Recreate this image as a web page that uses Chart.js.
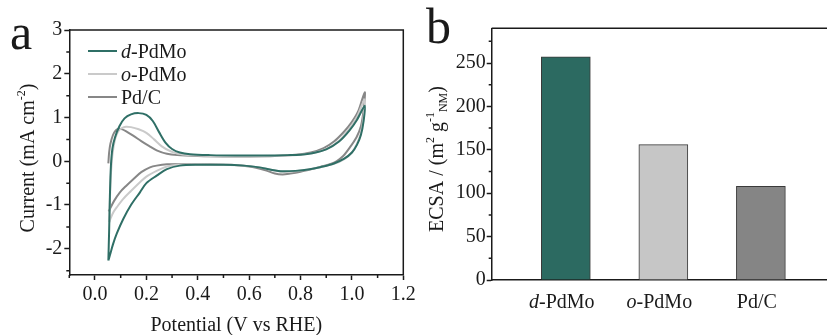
<!DOCTYPE html>
<html lang="en">
<head>
<meta charset="UTF-8">
<title>CV / ECSA</title>
<script src="https://cdn.jsdelivr.net/npm/chart.js"></script>
<style>
  body { margin: 0; width: 827px; height: 335px; overflow: hidden; background: #fff; position: relative; }
  .panel { position: absolute; top: 0; height: 335px; }
</style>
</head>
<body>
<div class="panel" style="left:0;width:420px"><canvas id="cvChart"></canvas></div>
<div class="panel" style="left:420px;width:440px"><canvas id="ecsaChart"></canvas></div>
<script>
// CV loops: potential (V vs RHE) / current (mA cm-2), anodic sweep then cathodic sweep
const dPdMoV = [0.052, 0.055, 0.058, 0.062, 0.068, 0.078, 0.095, 0.115, 0.14, 0.17, 0.2, 0.225, 0.25, 0.275, 0.3, 0.33, 0.37, 0.45, 0.55, 0.65, 0.75, 0.8, 0.85, 0.9, 0.95, 0.99, 1.02, 1.05,
  1.045, 1.035, 1.02, 1.0, 0.97, 0.93, 0.88, 0.83, 0.78, 0.73, 0.69, 0.64, 0.58, 0.5, 0.4, 0.33, 0.28, 0.24, 0.2, 0.175, 0.14, 0.11, 0.085, 0.07, 0.058, 0.052];
const dPdMoI = [-2.27, -1.6, -0.8, -0.1, 0.3, 0.55, 0.8, 0.98, 1.07, 1.1, 1.06, 0.92, 0.66, 0.42, 0.28, 0.2, 0.16, 0.14, 0.13, 0.13, 0.14, 0.15, 0.19, 0.27, 0.45, 0.7, 0.95, 1.27,
  0.9, 0.6, 0.38, 0.2, 0.06, -0.05, -0.13, -0.19, -0.22, -0.23, -0.2, -0.14, -0.1, -0.08, -0.08, -0.1, -0.18, -0.33, -0.5, -0.71, -1.0, -1.32, -1.65, -1.9, -2.15, -2.27];

const oPdMoV = [0.056, 0.058, 0.062, 0.068, 0.078, 0.09, 0.105, 0.12, 0.14, 0.17, 0.2, 0.23, 0.26, 0.29, 0.32, 0.36, 0.45, 0.55, 0.65, 0.75, 0.8, 0.85, 0.9, 0.95, 0.99, 1.02, 1.05,
  1.045, 1.035, 1.02, 1.0, 0.97, 0.93, 0.88, 0.83, 0.78, 0.73, 0.69, 0.64, 0.58, 0.5, 0.4, 0.32, 0.28, 0.24, 0.2, 0.175, 0.14, 0.11, 0.085, 0.071, 0.06, 0.056];
const oPdMoI = [-1.39, -0.9, -0.3, 0.15, 0.5, 0.68, 0.76, 0.79, 0.78, 0.73, 0.65, 0.5, 0.34, 0.24, 0.18, 0.14, 0.12, 0.12, 0.12, 0.13, 0.15, 0.19, 0.28, 0.47, 0.75, 1.02, 1.42,
  1.0, 0.65, 0.4, 0.2, 0.05, -0.06, -0.13, -0.19, -0.23, -0.24, -0.2, -0.14, -0.1, -0.08, -0.07, -0.08, -0.12, -0.22, -0.35, -0.48, -0.68, -0.86, -1.05, -1.17, -1.32, -1.39];

const pdcV = [0.052, 0.055, 0.06, 0.07, 0.08, 0.09, 0.1, 0.12, 0.15, 0.18, 0.21, 0.24, 0.28, 0.32, 0.4, 0.5, 0.6, 0.7, 0.78, 0.84, 0.89, 0.93, 0.97, 1.0, 1.025, 1.05,
  1.045, 1.035, 1.018, 0.99, 0.966, 0.94, 0.914, 0.87, 0.837, 0.8, 0.76, 0.73, 0.7, 0.66, 0.6, 0.53, 0.45, 0.35, 0.28, 0.24, 0.214, 0.18, 0.149, 0.12, 0.097, 0.075, 0.058, 0.053];
const pdcI = [-0.05, 0.2, 0.4, 0.6, 0.7, 0.74, 0.74, 0.69, 0.58, 0.46, 0.35, 0.25, 0.17, 0.14, 0.12, 0.11, 0.11, 0.12, 0.15, 0.2, 0.3, 0.45, 0.68, 0.9, 1.15, 1.58,
  1.15, 0.8, 0.55, 0.3, 0.12, 0.0, -0.07, -0.14, -0.19, -0.24, -0.28, -0.3, -0.28, -0.2, -0.12, -0.08, -0.07, -0.06, -0.07, -0.1, -0.14, -0.25, -0.41, -0.57, -0.71, -0.9, -1.09, -1.15];

const cvNames = ['d-PdMo', 'o-PdMo', 'Pd/C'];
const cvTicksX = [0, 0.2, 0.4, 0.6, 0.8, 1.0, 1.2];
const cvTicksY = [-2, -1, 0, 1, 2, 3];

// ECSA bars (m2 g-1 of noble metal)
const ecsaCats = ['d-PdMo', 'o-PdMo', 'Pd/C'];
const ecsaValues = [257, 156, 108];
const ecsaTicksY = [0, 50, 100, 150, 200, 250];

const INK = '#1a1a1a';
const SERIF = '"Liberation Serif", "Times New Roman", serif';
Chart.defaults.font.family = SERIF;
Chart.defaults.font.size = 20;
Chart.defaults.color = INK;

// split "d-PdMo" into an italic prefix and the rest
function nameParts(name) {
  const m = name.match(/^([a-z])(-.*)$/);
  return m ? [{ t: m[1], italic: true }, { t: m[2] }] : [{ t: name }];
}

// text made of runs with their own style, size and baseline shift
function drawRich(ctx, parts, x, y, align) {
  const fontOf = p => (p.italic ? 'italic ' : '') + (p.size || 20) + 'px ' + SERIF;
  let total = 0;
  parts.forEach(p => { ctx.font = fontOf(p); p.w = ctx.measureText(p.t).width; total += p.w; });
  let cx = align === 'center' ? x - total / 2 : x;
  ctx.textAlign = 'left';
  ctx.textBaseline = 'alphabetic';
  ctx.fillStyle = INK;
  parts.forEach(p => { ctx.font = fontOf(p); ctx.fillText(p.t, cx, y + (p.dy || 0)); cx += p.w; });
}

function minorTicks(ctx, scale, values, len, vertical) {
  ctx.beginPath();
  values.forEach(v => {
    const p = scale.getPixelForValue(v);
    if (vertical) { ctx.moveTo(scale.right, p); ctx.lineTo(scale.right - len, p); }
    else { ctx.moveTo(p, scale.top); ctx.lineTo(p, scale.top + len); }
  });
  ctx.stroke();
}

function range(a, b, step) {
  const out = [];
  for (let v = a; v <= b + 1e-9; v += step) out.push(+v.toFixed(3));
  return out;
}

function toPoints(xs, ys) { return xs.map((x, i) => ({ x: x, y: ys[i] })); }

const cvColors = ['#2f6f66', '#cacaca', '#878787'];
const cvSeries = [[dPdMoV, dPdMoI], [oPdMoV, oPdMoI], [pdcV, pdcI]];

const cvDecor = {
  id: 'cvDecor',
  afterDraw(chart) {
    const ctx = chart.ctx, a = chart.chartArea;
    ctx.save();
    ctx.strokeStyle = INK;
    ctx.lineWidth = 1.5;
    ctx.beginPath();
    ctx.moveTo(a.left, a.top); ctx.lineTo(a.right, a.top); ctx.lineTo(a.right, a.bottom);
    ctx.stroke();
    minorTicks(ctx, chart.scales.x, range(-0.1, 1.1, 0.2), 3, false);
    minorTicks(ctx, chart.scales.y, range(-2.5, 2.5, 1), 3, true);

    // legend
    chart.data.datasets.forEach((ds, i) => {
      const y = 51 + i * 23;
      ctx.strokeStyle = ds.borderColor;
      ctx.lineWidth = 2;
      ctx.beginPath(); ctx.moveTo(88, y); ctx.lineTo(117, y); ctx.stroke();
      drawRich(ctx, nameParts(ds.label), 121, y + 6.5, 'left');
    });

    drawRich(ctx, [{ t: 'Potential (V vs RHE)' }], (a.left + a.right) / 2, 331, 'center');

    ctx.translate(34, 158);
    ctx.rotate(-Math.PI / 2);
    drawRich(ctx, [{ t: 'Current (mA cm' }, { t: '-2', size: 12, dy: -9 }, { t: ')' }], 0, 0, 'center');
    ctx.restore();

    ctx.save();
    ctx.font = '50px ' + SERIF;
    ctx.fillStyle = INK;
    ctx.textBaseline = 'alphabetic';
    ctx.fillText('a', 10, 49);
    ctx.restore();
  }
};

new Chart(document.getElementById('cvChart'), {
  type: 'line',
  data: {
    datasets: cvSeries.map((s, i) => ({
      label: cvNames[i],
      data: toPoints(s[0], s[1]),
      borderColor: cvColors[i],
      borderWidth: 2,
      pointRadius: 0,
      tension: 0.3,
      fill: false
    }))
  },
  options: {
    responsive: true,
    maintainAspectRatio: false,
    animation: false,
    layout: { padding: { top: 30, right: 16.7, left: 0, bottom: 0 } },
    plugins: { legend: { display: false }, tooltip: { enabled: false } },
    scales: {
      x: {
        type: 'linear', min: -0.1, max: 1.2,
        afterBuildTicks: s => { s.ticks = cvTicksX.map(v => ({ value: v })); },
        afterFit: s => { s.height = 60; },
        ticks: { padding: 3, callback: v => v.toFixed(1) },
        grid: { drawOnChartArea: false, tickLength: 5, tickWidth: 1.5, color: INK },
        border: { color: INK, width: 1.5 }
      },
      y: {
        type: 'linear', min: -2.6, max: 3,
        afterBuildTicks: s => { s.ticks = cvTicksY.map(v => ({ value: v })); },
        afterFit: s => { s.width = 69.3; },
        ticks: { padding: 2, callback: v => String(v) },
        grid: { drawOnChartArea: false, tickLength: 5, tickWidth: 1.5, color: INK },
        border: { color: INK, width: 1.5 }
      }
    }
  },
  plugins: [cvDecor]
});

const ecsaDecor = {
  id: 'ecsaDecor',
  afterDraw(chart) {
    const ctx = chart.ctx, a = chart.chartArea;
    ctx.save();
    ctx.strokeStyle = INK;
    ctx.lineWidth = 1.5;
    ctx.beginPath();
    ctx.moveTo(a.left, a.top); ctx.lineTo(a.right, a.top); ctx.lineTo(a.right, a.bottom);
    ctx.stroke();
    minorTicks(ctx, chart.scales.y, range(25, 275, 50), 3, true);

    ecsaCats.forEach((c, i) => {
      drawRich(ctx, nameParts(c), chart.scales.x.getPixelForValue(i + 1) - 4, 308, 'center');
    });

    ctx.translate(23, 159);
    ctx.rotate(-Math.PI / 2);
    drawRich(ctx, [
      { t: 'ECSA / (m' }, { t: '2', size: 12, dy: -9 }, { t: ' g' },
      { t: '-1', size: 12, dy: -9 }, { t: 'NM', size: 12, dy: 4 }, { t: ')' }
    ], 0, 0, 'center');
    ctx.restore();

    ctx.save();
    ctx.font = '50px ' + SERIF;
    ctx.fillStyle = INK;
    ctx.textBaseline = 'alphabetic';
    ctx.fillText('b', 6, 43);
    ctx.restore();
  }
};

new Chart(document.getElementById('ecsaChart'), {
  type: 'bar',
  data: {
    datasets: [{
      label: 'ECSA',
      data: ecsaValues.map((v, i) => ({ x: i + 1, y: v })),
      backgroundColor: ['#2c6a61', '#c6c6c6', '#858585'],
      borderColor: '#3a3a3a',
      borderWidth: 1,
      barThickness: 49
    }]
  },
  options: {
    responsive: true,
    maintainAspectRatio: false,
    animation: false,
    layout: { padding: { top: 28.3, right: 25, left: 0, bottom: 0 } },
    plugins: { legend: { display: false }, tooltip: { enabled: false } },
    scales: {
      x: {
        type: 'linear', min: 0.24, max: 3.76, offset: false,
        afterFit: s => { s.height = 55; },
        ticks: { display: false },
        grid: { display: false, offset: false },
        border: { color: INK, width: 1.5 }
      },
      y: {
        type: 'linear', min: 0, max: 290,
        afterBuildTicks: s => { s.ticks = ecsaTicksY.map(v => ({ value: v })); },
        afterFit: s => { s.width = 71.7; },
        ticks: { padding: 1, callback: v => String(v) },
        grid: { drawOnChartArea: false, tickLength: 5, tickWidth: 1.5, color: INK },
        border: { color: INK, width: 1.5 }
      }
    }
  },
  plugins: [ecsaDecor]
});
</script>
</body>
</html>
